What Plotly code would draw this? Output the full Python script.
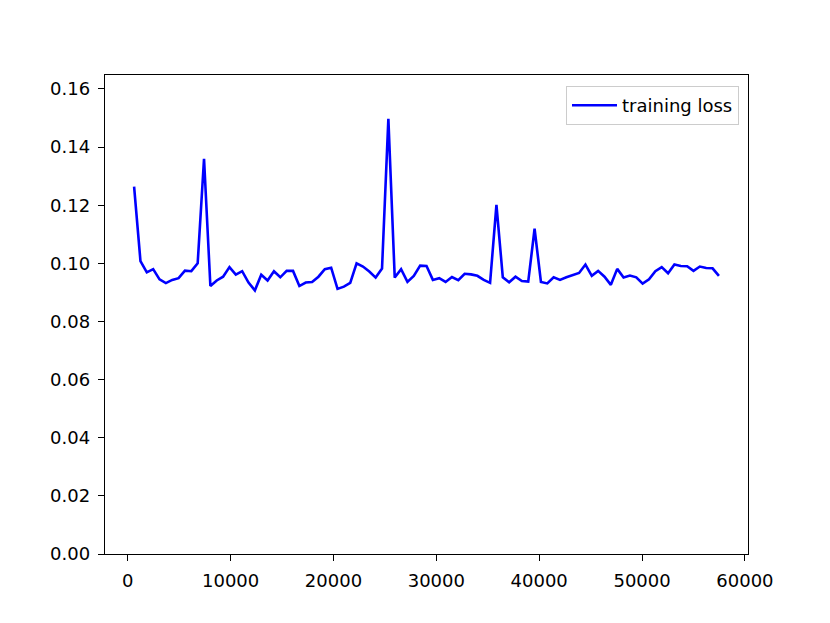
import plotly.graph_objects as go

# training steps and loss values
steps = [618, 1236, 1854, 2472, 3090, 3708, 4326, 4944, 5562, 6180,
         6798, 7416, 8034, 8652, 9270, 9888, 10506, 11124, 11742, 12360,
         12978, 13596, 14214, 14832, 15450, 16068, 16686, 17304, 17922, 18540,
         19158, 19776, 20394, 21012, 21630, 22248, 22866, 23484, 24102, 24720,
         25338, 25956, 26574, 27192, 27810, 28428, 29046, 29664, 30282, 30900,
         31518, 32136, 32754, 33372, 33990, 34608, 35226, 35844, 36462, 37080,
         37698, 38316, 38934, 39552, 40170, 40788, 41406, 42024, 42642, 43260,
         43878, 44496, 45114, 45732, 46350, 46968, 47586, 48204, 48822, 49440,
         50058, 50676, 51294, 51912, 52530, 53148, 53766, 54384, 55002, 55620,
         56238, 56856, 57474]

loss = [0.1264, 0.1008, 0.0969, 0.0980, 0.0945, 0.0932, 0.0943, 0.0949, 0.0975, 0.0973,
        0.1000, 0.1360, 0.0922, 0.0941, 0.0954, 0.0987, 0.0961, 0.0973, 0.0934, 0.0907,
        0.0961, 0.0941, 0.0973, 0.0952, 0.0974, 0.0974, 0.0922, 0.0934, 0.0936, 0.0954,
        0.0980, 0.0985,
        0.0912, 0.0920, 0.0933, 0.1000, 0.0989, 0.0972, 0.0951, 0.0982, 0.1497, 0.0951,
        0.0980, 0.0936, 0.0957, 0.0992, 0.0991, 0.0943, 0.0949, 0.0936, 0.0953, 0.0942,
        0.0964, 0.0962, 0.0957, 0.0943, 0.0933, 0.1201, 0.0952, 0.0935, 0.0954, 0.0939,
        0.0937, 0.1119, 0.0936, 0.0931,
        0.0952, 0.0943, 0.0952, 0.0960, 0.0967, 0.0996, 0.0957, 0.0974, 0.0954, 0.0926,
        0.0981, 0.0951, 0.0958, 0.0952, 0.0930, 0.0945, 0.0973, 0.0987, 0.0966, 0.0996,
        0.0991, 0.0990, 0.0974, 0.0989, 0.0984, 0.0983, 0.0957]

x_ticks = [0, 10000, 20000, 30000, 40000, 50000, 60000]
y_ticks = [0.00, 0.02, 0.04, 0.06, 0.08, 0.10, 0.12, 0.14, 0.16]

fig = go.Figure()
fig.add_trace(go.Scatter(
    x=steps, y=loss,
    name="training loss",
    mode="lines",
    line=dict(color="#0000ff", width=2.6),
))

axis_style = dict(
    showline=True, linecolor="black", linewidth=1.4, mirror=True,
    ticks="outside", ticklen=6, tickwidth=1.3, tickcolor="black",
    showgrid=False, zeroline=False, ticklabelstandoff=4,
    tickfont=dict(family="DejaVu Sans", size=18, color="black"),
)

fig.update_xaxes(range=[-2211, 60300], tickvals=x_ticks,
                 ticktext=[str(v) for v in x_ticks], **axis_style)
fig.update_yaxes(range=[0, 0.1648], tickvals=y_ticks,
                 ticktext=["%.2f" % v for v in y_ticks], **axis_style)

fig.update_layout(
    width=830, height=623,
    margin=dict(l=97, r=90, t=67, b=77),
    paper_bgcolor="white", plot_bgcolor="white",
    font=dict(family="DejaVu Sans", size=18, color="black"),
    showlegend=True,
    legend=dict(x=0.986, y=0.977, xanchor="right", yanchor="top",
                bgcolor="white", bordercolor="#cccccc", borderwidth=1,
                itemwidth=45, font=dict(size=18)),
)

fig.write_html("out.html")
